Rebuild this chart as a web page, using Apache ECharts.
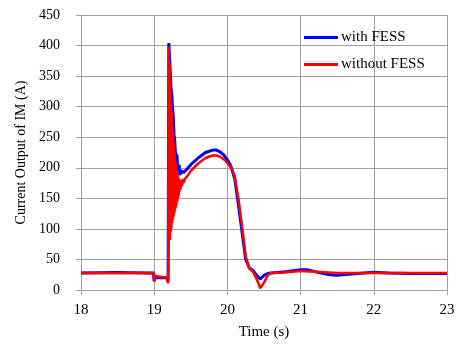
<!DOCTYPE html>
<html>
<head>
<meta charset="utf-8">
<script src="https://cdn.jsdelivr.net/npm/echarts@6/dist/echarts.min.js"></script>
<style>html,body{margin:0;padding:0;background:#fff;}#c{width:458px;height:345px;}</style>
</head>
<body>
<div id="c"></div>
<script>
var xTicks = [18, 19, 20, 21, 22, 23];
var yTicks = [0, 50, 100, 150, 200, 250, 300, 350, 400, 450];
var seriesNames = ['with FESS', 'without FESS'];

var timeWith = [18.0, 18.5, 18.9, 18.99, 19.0, 19.01, 19.03, 19.1, 19.17, 19.19, 19.2, 19.21, 19.22, 19.23, 19.24, 19.25, 19.26, 19.27, 19.28, 19.29, 19.30, 19.31, 19.32, 19.33, 19.34, 19.35, 19.37, 19.4, 19.45, 19.5, 19.6, 19.7, 19.8, 19.85, 19.9, 19.95, 20.0, 20.05, 20.1, 20.15, 20.2, 20.25, 20.3, 20.35, 20.4, 20.45, 20.5, 20.55, 20.6, 20.8, 21.0, 21.1, 21.2, 21.4, 21.5, 21.7, 22.0, 22.2, 22.5, 23.0];
var valuesWith = [28, 28.5, 28, 28, 14, 24, 20, 20, 20, 14, 404, 380, 355, 330, 320, 300, 285, 255, 245, 225, 215, 222, 200, 195, 205, 188, 195, 192, 198, 205, 216, 225, 229, 229, 226, 221, 213, 202, 182, 140, 95, 50, 36, 32, 24, 18, 24, 27, 28, 30, 33, 33, 30, 25, 24, 26, 29, 28, 27, 27];

var timeWithout = [18.0, 18.5, 18.99, 19.0, 19.01, 19.03, 19.17, 19.19, 19.2, 19.205, 19.21, 19.215, 19.22, 19.225, 19.23, 19.235, 19.24, 19.245, 19.25, 19.255, 19.26, 19.265, 19.27, 19.275, 19.28, 19.285, 19.29, 19.295, 19.30, 19.305, 19.31, 19.315, 19.32, 19.325, 19.33, 19.335, 19.34, 19.345, 19.35, 19.36, 19.37, 19.38, 19.39, 19.4, 19.42, 19.45, 19.5, 19.6, 19.7, 19.8, 19.85, 19.9, 19.95, 20.0, 20.05, 20.1, 20.15, 20.2, 20.25, 20.3, 20.35, 20.4, 20.45, 20.5, 20.55, 20.6, 20.8, 21.0, 21.2, 21.5, 22.0, 23.0];
var valuesWithout = [28, 28, 28, 14, 23, 20, 20, 11, 398, 150, 370, 82, 340, 95, 310, 100, 290, 110, 270, 115, 255, 120, 240, 125, 225, 130, 210, 135, 200, 140, 195, 145, 190, 150, 185, 155, 182, 160, 180, 165, 180, 170, 182, 175, 182, 186, 195, 207, 216, 220, 220, 218, 214, 208, 200, 186, 150, 105, 55, 35, 30, 18, 3, 12, 24, 28, 29, 31, 30, 28, 28, 28];

function pairs(t, v) { return t.map(function (x, i) { return [x, v[i]]; }); }

var font = '"Liberation Serif", "Times New Roman", serif';
var gridColor = '#a0a0a0';
var chart = echarts.init(document.getElementById('c'), null, {renderer: 'canvas'});
chart.setOption({
  animation: false,
  backgroundColor: '#fff',
  textStyle: {fontFamily: font, color: '#000'},
  grid: {left: 81, right: 11, top: 15, bottom: 53, containLabel: false},
  legend: {
    orient: 'vertical', left: 299, top: 25, itemGap: 12,
    itemWidth: 34, itemHeight: 3, icon: 'rect',
    textStyle: {fontFamily: font, fontSize: 15, color: '#000', padding: [0, 0, 0, -2]},
    data: seriesNames
  },
  xAxis: {
    type: 'value', min: xTicks[0], max: xTicks[xTicks.length - 1], interval: 1,
    name: 'Time (s)', nameLocation: 'middle', nameGap: 35,
    nameTextStyle: {fontFamily: font, fontSize: 15, color: '#000'},
    axisLine: {show: true, lineStyle: {color: gridColor}},
    axisTick: {show: true, length: 5, lineStyle: {color: gridColor}},
    axisLabel: {fontFamily: font, fontSize: 15, color: '#000', margin: 13},
    splitLine: {show: true, lineStyle: {color: gridColor, width: 1}}
  },
  yAxis: {
    type: 'value', min: yTicks[0], max: yTicks[yTicks.length - 1], interval: 50,
    name: 'Current Output of IM (A)', nameLocation: 'middle', nameGap: 53, nameRotate: 90,
    nameTextStyle: {fontFamily: font, fontSize: 14, color: '#000'},
    axisLine: {show: true, lineStyle: {color: gridColor}},
    axisTick: {show: true, length: 5, inside: false, lineStyle: {color: gridColor}},
    axisLabel: {fontFamily: font, fontSize: 14, color: '#000', margin: 21},
    splitLine: {show: true, lineStyle: {color: gridColor, width: 1}}
  },
  series: [
    {name: seriesNames[0], type: 'line', data: pairs(timeWith, valuesWith), showSymbol: false,
     lineStyle: {color: '#0000ff', width: 3}, itemStyle: {color: '#0000ff'}, z: 2},
    {name: seriesNames[1], type: 'line', data: pairs(timeWithout, valuesWithout), showSymbol: false,
     lineStyle: {color: '#ff0000', width: 2.5}, itemStyle: {color: '#ff0000'}, z: 3}
  ]
});
</script>
</body>
</html>
